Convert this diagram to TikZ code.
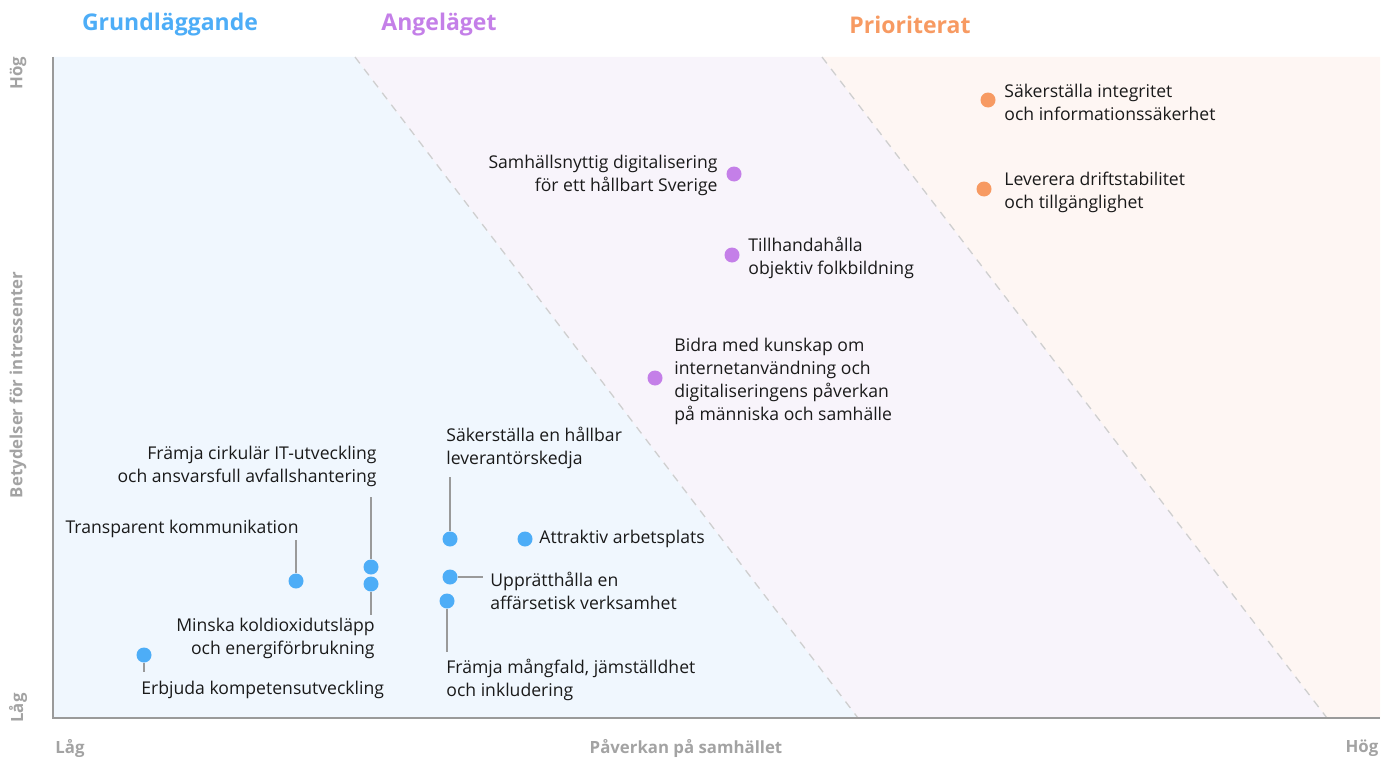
\documentclass[tikz,border=0pt]{standalone}
\usepackage{fontspec}
\setmainfont{Open Sans}
\usetikzlibrary{positioning,calc}

\definecolor{blueDot}{HTML}{4DADF7}
\definecolor{purpleDot}{HTML}{C47FE8}
\definecolor{orangeDot}{HTML}{F79A62}
\definecolor{blueBg}{HTML}{F0F7FE}
\definecolor{purpleBg}{HTML}{F8F4FB}
\definecolor{orangeBg}{HTML}{FEF6F3}
\definecolor{axisGray}{HTML}{9A9A9A}
\definecolor{labelGray}{HTML}{A3A3A3}
\definecolor{dashGray}{HTML}{CFCFCF}
\definecolor{textDark}{HTML}{1A1A1A}

\begin{document}
\begin{tikzpicture}[x=1pt, y=-1pt, thick]
		\tikzstyle{dot}=[circle, minimum size=15pt, inner sep=0pt]
		\tikzstyle{lbl}=[inner sep=0pt, text=textDark, font=\fontsize{17.6}{23}\selectfont]
		\tikzstyle{head}=[font=\fontsize{23}{28}\bfseries\selectfont]
		\tikzstyle{axlbl}=[text=labelGray, font=\fontsize{16.8}{19}\bfseries\selectfont]
		\tikzstyle{lead}=[draw=axisGray, line width=1.2pt]
		\useasboundingbox (0,0) rectangle (1395,760);
		% zones
		\fill[blueBg]   (53,57) -- (355,57) -- (858,718) -- (53,718) -- cycle;
		\fill[purpleBg] (355,57) -- (822,57) -- (1327,718) -- (858,718) -- cycle;
		\fill[orangeBg] (822,57) -- (1380,57) -- (1380,718) -- (1327,718) -- cycle;
		\draw[dashGray, dashed, dash pattern=on 8pt off 7pt, line width=1.3pt] (355,57) -- (858,718);
		\draw[dashGray, dashed, dash pattern=on 8pt off 7pt, line width=1.3pt] (822,57) -- (1327,718);
		% axes
		\draw[axisGray, line width=2pt] (53,57) -- (53,718) -- (1380,718);
		% headings
		\node[head, text=blueDot]   (G) at (170,25) {Grundläggande};
		\node[head, text=purpleDot] (A) at (439,25) {Angeläget};
		\node[head, text=orangeDot] (P) at (910,25) {Prioriterat};
		% axis labels
		\node[axlbl, rotate=90] (yH) at (18,73)  {Hög};
		\node[axlbl, rotate=90] (yL) at (18,708) {Låg};
		\node[axlbl, rotate=90] (yT) at (18,385) {Betydelser för intressenter};
		\node[axlbl] (xL) at (70,748)   {Låg};
		\node[axlbl] (xT) at (686,748)  {Påverkan på samhället};
		\node[axlbl] (xH) at (1362,748) {Hög};
		% prioriterat
		\node[dot, fill=orangeDot] (o1) at (988,100) {};
		\node[lbl, anchor=west, align=left] (t1) at (1004,102) {Säkerställa integritet\\och informationssäkerhet};
		\node[dot, fill=orangeDot] (o2) at (984,189) {};
		\node[lbl, anchor=west, align=left] (t2) at (1004,192) {Leverera driftstabilitet\\och tillgänglighet};
		% angelaget
		\node[dot, fill=purpleDot] (p1) at (734,174) {};
		\node[lbl, anchor=east, align=right] (t3) at (718,175) {Samhällsnyttig digitalisering\\för ett hållbart Sverige};
		\node[dot, fill=purpleDot] (p2) at (732,255) {};
		\node[lbl, anchor=west, align=left] (t4) at (748,258) {Tillhandahålla\\objektiv folkbildning};
		\node[dot, fill=purpleDot] (p3) at (655,378) {};
		\node[lbl, anchor=west, align=left] (t5) at (674,381) {Bidra med kunskap om\\internetanvändning och\\digitaliseringens påverkan\\på människa och samhälle};
		% grundlaggande
		\node[dot, fill=blueDot] (b1) at (450,539) {};
		\node[lbl, anchor=north west, align=left] (t6) at (446,427) {Säkerställa en hållbar\\leverantörskedja};
		\coordinate (c6) at (450,477);
		\node[dot, fill=blueDot] (b2) at (525,539) {};
		\node[lbl, anchor=west] (t7) at (539,539) {Attraktiv arbetsplats};
		\node[dot, fill=blueDot] (b3) at (450,577) {};
		\node[lbl, anchor=west, align=left] (t8) at (490,591) {Upprätthålla en\\affärsetisk verksamhet};
		\coordinate (c8) at (483,577);
		\node[dot, fill=blueDot] (b4) at (447,601) {};
		\node[lbl, anchor=north west, align=left] (t9) at (446,659) {Främja mångfald, jämställdhet\\och inkludering};
		\coordinate (c9) at (447,652);
		\node[dot, fill=blueDot] (b5) at (371,567) {};
		\node[lbl, anchor=north east, align=right] (t10) at (377,446) {Främja cirkulär IT-utveckling\\och ansvarsfull avfallshantering};
		\coordinate (c10) at (371,497);
		\node[dot, fill=blueDot] (b6) at (371,584) {};
		\node[lbl, anchor=north east, align=right] (t11) at (375,618) {Minska koldioxidutsläpp\\och energiförbrukning};
		\coordinate (c11) at (371,615);
		\node[dot, fill=blueDot] (b7) at (296,581) {};
		\node[lbl, anchor=east] (t12) at (299,529) {Transparent kommunikation};
		\coordinate (c12) at (296,540);
		\node[dot, fill=blueDot] (b8) at (144,655) {};
		\node[lbl, anchor=west] (t13) at (141,690) {Erbjuda kompetensutveckling};
		\coordinate (c13) at (144,672);
		% leaders
		\path[lead]
		(c6) -- (b1)
		(b3) -- (c8)
		(b4) -- (c9)
		(c10) -- (b5)
		(b6) -- (c11)
		(c12) -- (b7)
		(b8) -- (c13);
	\end{tikzpicture}
\end{document}
